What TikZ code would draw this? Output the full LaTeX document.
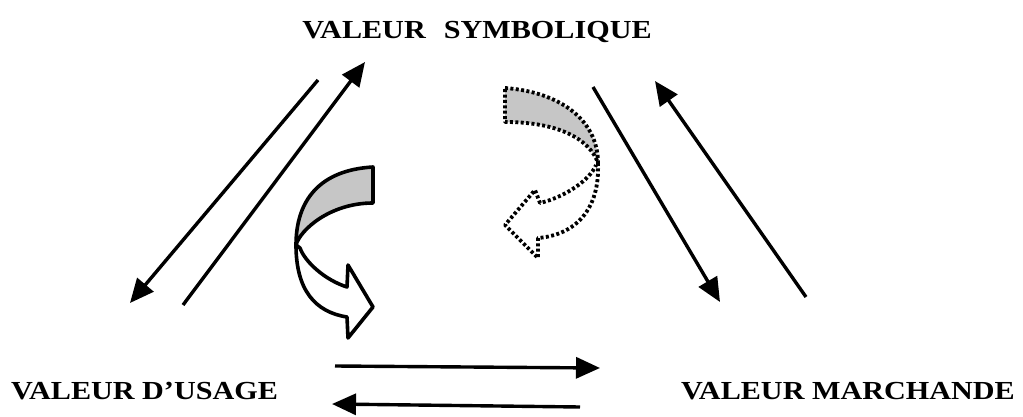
\documentclass[tikz,border=0pt]{standalone}
\usepackage{fontspec}
\setmainfont{Liberation Serif}
\usetikzlibrary{arrows.meta}
\newcommand{\widetxt}[1]{\scalebox{1.16}[1]{#1}}
\begin{document}
\begin{tikzpicture}[x=1pt,y=-1pt,
  arr/.style={line width=3.4pt,-{Triangle[length=24pt,width=21pt]}},
  lbl/.style={font=\bfseries\fontsize{26}{30}\selectfont,inner sep=0pt},
  solidcurve/.style={line width=3.6pt,line join=round},
  dotcurve/.style={line width=3.8pt,line join=round,dash pattern=on 3pt off 2.4pt}]
\useasboundingbox (0,0) rectangle (1023,417);
\node[lbl] (sym) at (477,32) {\widetxt{VALEUR\hspace{0.6em}SYMBOLIQUE}};
\node[lbl,anchor=west] (usage) at (11,391) {\widetxt{VALEUR D’USAGE}};
\node[lbl,anchor=east] (march) at (1015,391) {\widetxt{VALEUR MARCHANDE}};
% named end points
\coordinate (a1s) at (318,80); \coordinate (a1e) at (130,303);
\coordinate (a2s) at (183,305); \coordinate (a2e) at (365,62);
\coordinate (a3s) at (593,87); \coordinate (a3e) at (720,302);
\coordinate (a4s) at (806,297); \coordinate (a4e) at (655,81);
\coordinate (a5s) at (335,366); \coordinate (a5e) at (600,368);
\coordinate (a6s) at (580,407); \coordinate (a6e) at (332,404);
\draw[arr] (a1s) -- (a1e);
\draw[arr] (a2s) -- (a2e);
\draw[arr] (a3s) -- (a3e);
\draw[arr] (a4s) -- (a4e);
\draw[arr] (a5s) -- (a5e);
\draw[arr] (a6s) -- (a6e);
% solid curved arrow
\draw[solidcurve,fill=gray!45] (373,167) .. controls (320,170) and (296,200) .. (296,245)
  .. controls (300,230) and (330,203) .. (373,203) -- cycle;
\draw[solidcurve,fill=white] (296,245) .. controls (296,290) and (315,312) .. (347,317)
  -- (348,338) -- (373,307) -- (348,265) -- (347,287)
  .. controls (325,280) and (305,262) .. (300,248) -- cycle;
% dotted curved arrow
\draw[dotcurve,fill=gray!45] (505,88) .. controls (560,92) and (598,120) .. (598,163)
  .. controls (590,140) and (560,122) .. (505,122) -- cycle;
\draw[dotcurve] (598,163) .. controls (600,210) and (575,235) .. (538,238)
  -- (538,258) -- (505,225) -- (535,190) -- (540,203)
  .. controls (565,197) and (590,180) .. (596,165);
\end{tikzpicture}
\end{document}
